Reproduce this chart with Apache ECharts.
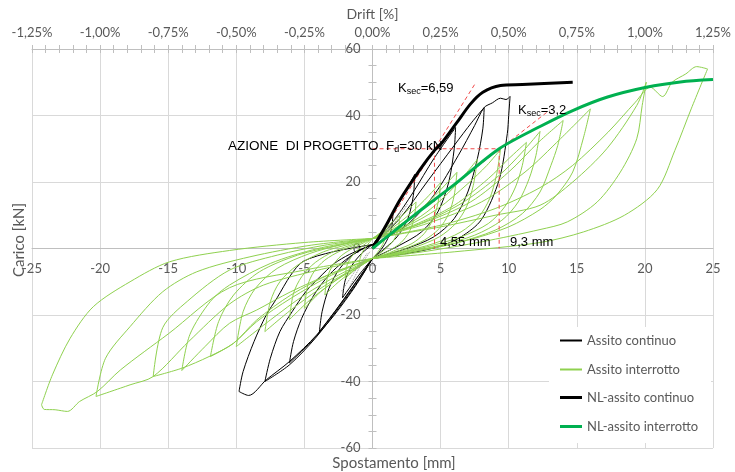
<!DOCTYPE html>
<html><head><meta charset="utf-8">
<script src="https://cdn.jsdelivr.net/npm/echarts@6/dist/echarts.min.js"></script>
<style>html,body{margin:0;padding:0;background:#fff}#c{width:735px;height:472px}</style>
</head><body><div id="c"></div>
<script>
// ---------- DATA ----------
// Assito interrotto (thin light green) : positive half-cycles
const greenPosLoading = [
 [[0,3],[0.3,3.8],[0.6,4.8],[1,6]],
 [[0,3],[0.5,4.5],[1,6.3],[1.5,8.2],[2,10]],
 [[0,3],[0.8,5],[1.6,7.5],[2.4,10.8],[3.2,14]],
 [[0,3],[1.2,5.5],[2.5,9.5],[3.8,14.5],[5,19.8]],
 [[0,3],[1.5,5.8],[3,10],[4.6,16],[6.2,22.9]],
 [[0,3],[2,6],[4,11],[6,18.5],[7.7,26.8]],
 [[0,3],[2.4,6.5],[4.8,12],[7,19.5],[8.4,25],[9.4,29.8]],
 [[0,3],[3,7],[6,13],[8.5,21],[10,27],[11.3,31.9]],
 [[0,3],[3.2,7],[6.5,13.5],[9.3,22],[11,29],[12.3,35.2]],
 [[0,3],[3.6,7.5],[7.2,14],[10,23],[12.2,32],[14,38.5]],
 [[0,3],[4,7.5],[8,14],[11.2,23],[13.8,33],[16,42]],
 [[0,3],[5,6.5],[9,10],[12.3,13],[14.7,20],[17.2,30],[19.4,43],[20.1,50]],
 [[0,3],[5,7],[9,12],[12.3,18.3],[14.7,25],[17.3,35],[19.3,44],[20.4,48.5],[21.3,45.7],[22,50],[23,52.5],[23.8,54.7],[24.6,54]]
];
const greenPosUnloading = [
 [[1,6],[0.95,3.5],[0.75,1.2],[0.4,-1],[0,-3]],
 [[2,10],[1.9,6],[1.6,2.8],[1.1,0.4],[0.5,-1.6],[0,-3]],
 [[3.2,14],[3.05,9],[2.7,5],[2.1,1.8],[1.3,-0.5],[0.6,-2],[0,-3]],
 [[5,19.8],[4.8,13.5],[4.4,8.5],[3.8,4.5],[2.9,1.5],[1.7,-0.5],[0.8,-2],[0,-3]],
 [[6.2,22.9],[6,16],[5.6,10.5],[4.9,6],[3.8,2.5],[2.4,0],[1.1,-1.7],[0,-3]],
 [[7.7,26.8],[7.4,19],[6.9,12.5],[6.1,7.5],[4.9,3.5],[3.2,0.5],[1.5,-1.5],[0,-3]],
 [[9.4,29.8],[9.1,22],[8.6,15],[7.8,9.5],[6.5,5],[4.5,1.5],[2.2,-1],[0,-3]],
 [[11.3,31.9],[11,25],[10.5,18.5],[9.7,12.5],[8.5,7.5],[6.5,3.5],[4,0.5],[2,-1.3],[0,-3]],
 [[12.3,35.2],[12,28],[11.5,21],[10.7,14],[9.5,8.5],[7.5,4],[5,1],[2.5,-1],[0,-3]],
 [[14,38.5],[13.6,31],[13.1,25],[12.3,17],[11,10.5],[9,5.5],[6,1.5],[3,-1],[0,-3]],
 [[16,42],[15.5,33.5],[14.7,23],[13.5,16],[12.3,11.7],[10,6.5],[7,2.5],[3.5,-0.5],[0,-3]],
 [[20.1,50],[19.8,43],[19.4,33],[18.2,23],[16.5,14],[14.3,8],[12.3,5.7],[8,2],[4,-0.8],[0,-3]],
 [[24.6,54],[23.4,42],[22.2,29.5],[20.9,17.7],[18.5,10],[15.5,5],[12.3,1.8],[6,-1],[0,-3]]
];
// Assito interrotto : negative half-cycles
const greenNegLoading = [
 [[0,-3],[-0.5,-3.8],[-1,-5]],
 [[0,-3],[-0.7,-4.8],[-1.4,-6.8],[-2,-9]],
 [[0,-3],[-0.9,-5.3],[-1.8,-7.8],[-2.7,-10.8],[-3.5,-14]],
 [[0,-3],[-1.2,-5.8],[-2.5,-9],[-3.8,-13],[-5,-18]],
 [[0,-3],[-1.5,-6.5],[-3,-10.5],[-4.6,-15.5],[-6.1,-21.4]],
 [[0,-3],[-2,-7.5],[-4,-12.5],[-6,-18.5],[-7.9,-25]],
 [[0,-3],[-2.5,-8],[-5,-14],[-7.5,-21.5],[-10,-29.5]],
 [[0,-3],[-3,-8],[-6,-15],[-8.5,-22],[-10.2,-28.5],[-11.9,-32.5]],
 [[0,-3],[-3,-7.5],[-6,-13],[-8.5,-18.5],[-10.5,-22.5],[-12.3,-29.5],[-14,-36.7]],
 [[0,-3],[-3,-7.5],[-6,-14],[-8.5,-21.5],[-10.2,-28.5],[-12,-32.5],[-14,-36],[-16.1,-38.5]],
 [[0,-3],[-4,-6.5],[-8,-11],[-10.5,-16.7],[-13.5,-28],[-16.1,-38.5],[-17.8,-41],[-20.3,-44.5]],
 [[0,-3],[-5,-6.5],[-10.5,-11.8],[-15,-25.7],[-18.5,-36.5],[-20.2,-43],[-21.5,-46],[-22.4,-49],[-23.3,-48.5],[-24.1,-48.4],[-24.3,-47]]
];
const greenNegUnloading = [
 [[-1,-5],[-0.9,-2.8],[-0.7,-0.8],[-0.35,1.2],[0,3]],
 [[-2,-9],[-1.9,-5.5],[-1.6,-2.8],[-1.1,-0.5],[-0.5,1.5],[0,3]],
 [[-3.5,-14],[-3.3,-8.5],[-2.9,-5],[-2.3,-2.2],[-1.4,0.2],[-0.6,1.8],[0,3]],
 [[-5,-18],[-4.75,-11],[-4.3,-7],[-3.5,-3.5],[-2.3,-0.6],[-1,1.5],[0,3]],
 [[-6.1,-21.4],[-5.8,-13.5],[-5.2,-8.5],[-4.2,-4.2],[-2.8,-0.8],[-1.3,1.4],[0,3]],
 [[-7.9,-25],[-7.5,-16],[-6.8,-10],[-5.5,-5],[-3.6,-1],[-1.7,1.3],[0,3]],
 [[-10,-29.5],[-9.5,-19],[-8.6,-12],[-7,-6],[-4.6,-1.5],[-2.2,1.2],[0,3]],
 [[-11.9,-32.5],[-11.3,-22],[-10.2,-14],[-8.3,-7],[-5.5,-2],[-2.5,1],[0,3]],
 [[-14,-36.7],[-13.4,-25.8],[-11.9,-15.9],[-10.5,-11],[-7.5,-4.5],[-4,0],[0,3]],
 [[-16.1,-38.5],[-15.4,-23.8],[-13.6,-15.9],[-10.5,-6.5],[-7,-2],[-3.5,1],[0,3]],
 [[-20.3,-44.5],[-19.6,-33],[-17.8,-23.5],[-15.4,-13],[-12.9,-7],[-9,-2.5],[-4.5,1],[0,3]],
 [[-24.3,-47],[-23.5,-38],[-22.2,-27],[-20.5,-17.5],[-17.8,-10],[-14.9,-4],[-10.5,-0.6],[-5,1.8],[0,3]]
];
// Assito continuo (thin black)
const blackPosLoading = [
 [[0,1],[0.7,5],[1.5,11]],
 [[0,1],[1,7],[2,14],[3.1,22.3]],
 [[0,1],[1.5,8],[3,17],[4.5,27],[6.1,36.4]],
 [[0,1],[2,9],[4,20],[6,31],[7.3,38],[8.2,42.4]],
 [[0,1],[2.5,7],[4.5,16],[6.3,28],[7.5,37],[8.2,42.4],[8.8,43.8],[9.4,45.2],[9.8,44.8],[10.1,45.7]]
];
const blackPosUnloading = [
 [[1.5,11],[1.4,6],[1,2],[0.5,-1],[0,-3]],
 [[3.1,22.3],[3,16],[2.6,9],[1.8,3.5],[0.9,0],[0,-3]],
 [[6.1,36.4],[6,30],[5.6,20],[4.8,11],[3.6,5],[2,1],[0,-3]],
 [[8.2,42.4],[8.1,36],[7.7,27],[7,17],[6,9],[4.5,3.5],[2.5,0],[0,-3]],
 [[10.1,45.7],[10,40],[9.9,34.6],[9.3,20.7],[8,8.7],[6.5,3.5],[4.9,0.6],[2.5,-1.5],[0,-3]]
];
const blackNegLoading = [
 [[0,-3],[-1,-8],[-2.2,-14.8]],
 [[0,-3],[-1.2,-10],[-2.6,-18],[-3.9,-25]],
 [[0,-3],[-1.2,-11],[-2.8,-20],[-4.5,-28],[-6.1,-34.4]],
 [[0,-3],[-1,-9.5],[-2.5,-18],[-4.2,-27],[-6.1,-35],[-7.9,-40]],
 [[0,-3],[-1,-9],[-2.4,-17],[-4.1,-26],[-6.1,-34],[-7.8,-39.5],[-9.1,-44.2],[-9.8,-43]]
];
const blackNegUnloading = [
 [[-2.2,-14.8],[-2,-9.5],[-1.5,-5],[-0.8,-1.5],[0,1.2]],
 [[-3.9,-25],[-3.7,-19],[-3.2,-12],[-2.4,-6],[-1.3,-1.5],[0,1.2]],
 [[-6.1,-34.4],[-5.8,-28],[-5.2,-21],[-4.3,-14],[-3.2,-8],[-2,-3.5],[-1,-0.7],[0,1.2]],
 [[-7.9,-40],[-7.5,-33],[-6.8,-25],[-5.9,-19],[-4.9,-13],[-3.9,-8.7],[-2.8,-4.5],[-1.7,-1.8],[0,1.2]],
 [[-9.8,-43],[-9.5,-37],[-8.7,-28],[-7.8,-20],[-7,-14.8],[-6,-8],[-5.1,-3.9],[-2.9,-1],[0,1.2]]
];
// grey dotted traces near the origin
const dottedTraces = [
 [[0.2,1],[1.2,6.5],[2.3,12.6]],
 [[0.4,1.5],[1.6,7.5],[2.6,13.5]],
 [[-0.2,-1],[-1,-6],[-1.7,-11.7]],
 [[-0.4,-1.5],[-1.4,-7.5],[-2.3,-13]]
];
// NL models
const nlContinuo = [[0,0],[1,7],[2,14.5],[3.5,23.8],[4.55,29.5],[5.1,31.8],[6.2,37.9],[7.2,43.5],[8.1,47],[9.4,49],[11,49.3],[14.7,50]];
const nlInterrotto = [[0,0],[3,9.8],[6,19.2],[9.3,30],[12.3,36.7],[14.7,41.5],[17.2,45.5],[20.1,48.5],[22.6,50.1],[25,50.8]];
// red dashed construction lines
const secantContinuo = [[0,0],[7.6,50]];
const secantInterrotto = [[0,0],[13,41.6]];
const designLoadLine = [[0,30],[9.3,30]];
const dispLine455 = [[4.55,30],[4.55,0]];
const dispLine93 = [[9.3,30],[9.3,0]];

const legendThin = ['Assito continuo','Assito interrotto'];
const legendThick = ['NL-assito continuo','NL-assito interrotto'];

// ---------- CHART ----------
const FONT = 'Lato, "Open Sans", sans-serif';
const AFONT = '"Liberation Sans", Arial, sans-serif';
const GREY = '#595959';
const GRID = {left:32, right:22, top:49, bottom:24};
const W = 735, H = 472;
const plotW = W - GRID.left - GRID.right, plotH = H - GRID.top - GRID.bottom;
// axes cross at (0,0): shift the axis lines from the grid edges to the zero position
const yAxisOffset = -plotW * (0 - (-25)) / 50;
const xAxisOffset = -plotH * (0 - (-60)) / 120;

const chart = echarts.init(document.getElementById('c'), null, {renderer:'canvas'});

function lines(list, name, color, width, z) {
  return list.map(d => ({
    type:'line', name, data:d, xAxisIndex:0, yAxisIndex:0, symbol:'none', showSymbol:false,
    smooth:0.3, lineStyle:{color, width}, itemStyle:{color}, z, silent:true, emphasis:{disabled:true}
  }));
}
function dashed(d) {
  return {type:'line', name:'_aux', data:d, symbol:'none', smooth:false, silent:true,
    lineStyle:{color:'#f24a4a', width:1, type:[4,3]}, z:6, emphasis:{disabled:true}};
}

const series = [].concat(
  lines(blackPosLoading, legendThin[0], '#000000', 1, 2),
  lines(blackPosUnloading, legendThin[0], '#000000', 1, 2),
  lines(blackNegLoading, legendThin[0], '#000000', 1, 2),
  lines(blackNegUnloading, legendThin[0], '#000000', 1, 2),
  lines(greenPosLoading, legendThin[1], '#8fd14f', 1, 3),
  lines(greenPosUnloading, legendThin[1], '#8fd14f', 1, 3),
  lines(greenNegLoading, legendThin[1], '#8fd14f', 1, 3),
  lines(greenNegUnloading, legendThin[1], '#8fd14f', 1, 3),
  dottedTraces.map(d => ({type:'line', name:'_dot', data:d, symbol:'none', silent:true,
     lineStyle:{color:'#8c8c8c', width:1, type:[1,1]}, z:3})),
  [dashed(secantContinuo), dashed(secantInterrotto), dashed(designLoadLine), dashed(dispLine455), dashed(dispLine93)],
  lines([nlContinuo], legendThick[0], '#000000', 3, 7),
  lines([nlInterrotto], legendThick[1], '#00b050', 3, 7)
);

const tickStyle = {color:'#bfbfbf', width:1};
const option = {
  animation:false,
  backgroundColor:'#ffffff',
  grid:{left:GRID.left, right:GRID.right, top:GRID.top, bottom:GRID.bottom, containLabel:false},
  xAxis:[
    {type:'value', min:-25, max:25, interval:5, position:'bottom', offset:xAxisOffset,
     axisLine:{onZero:false, lineStyle:{color:'#bfbfbf'}}, axisTick:{show:false},
     axisLabel:{margin:14, color:GREY, fontFamily:FONT, fontSize:13},
     splitLine:{show:true, lineStyle:{color:'#d9d9d9', width:1}}},
    {type:'value', min:-1.25, max:1.25, interval:0.25, position:'top',
     axisLine:{onZero:false, lineStyle:{color:'#bfbfbf'}},
     axisTick:{show:true, length:4, lineStyle:tickStyle},
     minorTick:{show:true, splitNumber:5, length:4, lineStyle:tickStyle},
     axisLabel:{margin:10, color:GREY, fontFamily:FONT, fontSize:13,
       formatter:v => v.toFixed(2).replace('.',',') + '%'},
     splitLine:{show:false},
     name:'Drift [%]', nameLocation:'middle', nameGap:24,
     nameTextStyle:{color:GREY, fontFamily:FONT, fontSize:14}},
    {type:'value', min:-1.25, max:1.25, interval:0.25, position:'top',
     axisLine:{show:false, onZero:false},
     axisTick:{show:true, inside:true, length:4, lineStyle:tickStyle},
     minorTick:{show:true, splitNumber:5, length:4, lineStyle:tickStyle},
     axisLabel:{show:false}, splitLine:{show:false}}
  ],
  yAxis:[
    {type:'value', min:-60, max:60, interval:20, position:'left', offset:yAxisOffset,
     axisLine:{onZero:false, lineStyle:{color:'#bfbfbf'}},
     axisTick:{show:true, length:4, lineStyle:tickStyle},
     minorTick:{show:true, splitNumber:4, length:4, lineStyle:tickStyle},
     axisLabel:{margin:12, color:GREY, fontFamily:FONT, fontSize:13},
     splitLine:{show:true, lineStyle:{color:'#d9d9d9', width:1}}},
    {type:'value', min:-60, max:60, interval:20, position:'left', offset:yAxisOffset,
     axisLine:{show:false, onZero:false},
     axisTick:{show:true, inside:true, length:4, lineStyle:tickStyle},
     minorTick:{show:true, splitNumber:4, length:4, lineStyle:tickStyle},
     axisLabel:{show:false}, splitLine:{show:false}}
  ],
  legend:[
    {data:legendThin, orient:'vertical', left:560, top:333, itemWidth:22, itemHeight:2, itemGap:14,
     icon:'rect', padding:0, selectedMode:false, z:10,
     textStyle:{color:GREY, fontFamily:FONT, fontSize:13, lineHeight:15}},
    {data:legendThick, orient:'vertical', left:560, top:390, itemWidth:22, itemHeight:3, itemGap:14,
     icon:'rect', padding:0, selectedMode:false, z:10,
     textStyle:{color:GREY, fontFamily:FONT, fontSize:13, lineHeight:15}}
  ],
  graphic:[
    {type:'rect', shape:{x:549, y:327, width:162, height:116}, style:{fill:'#ffffff'}, z:8, silent:true},
    {type:'text', x:394, y:463, z:9, silent:true,
     style:{text:'Spostamento [mm]', fill:GREY, font:'15px ' + FONT, align:'center', verticalAlign:'middle'}},
    {type:'text', x:19, y:240, rotation:Math.PI/2, z:9, silent:true,
     style:{text:'Carico [kN]', fill:GREY, font:'15px ' + FONT, align:'center', verticalAlign:'middle'}},
    {type:'text', x:228, y:146.5, z:9, silent:true,
     style:{text:'{n|AZIONE  DI PROGETTO  F}{s|d}{n|=30 kN}', verticalAlign:'middle', align:'left',
       rich:{n:{fontSize:13.5, fontFamily:AFONT, fill:'#000', lineHeight:16},
             s:{fontSize:9, fontFamily:AFONT, fill:'#000', lineHeight:8, verticalAlign:'bottom'}}}},
    {type:'text', x:398, y:88.5, z:9, silent:true,
     style:{text:'{n|K}{s|sec}{n|=6,59}', verticalAlign:'middle', align:'left',
       rich:{n:{fontSize:13, fontFamily:AFONT, fill:'#000', lineHeight:16},
             s:{fontSize:9, fontFamily:AFONT, fill:'#000', lineHeight:8, verticalAlign:'bottom'}}}},
    {type:'text', x:518, y:110.5, z:9, silent:true,
     style:{text:'{n|K}{s|sec}{n|=3,2}', verticalAlign:'middle', align:'left',
       rich:{n:{fontSize:13, fontFamily:AFONT, fill:'#000', lineHeight:16},
             s:{fontSize:9, fontFamily:AFONT, fill:'#000', lineHeight:8, verticalAlign:'bottom'}}}},
    {type:'text', x:440, y:242, z:9, silent:true,
     style:{text:'4,55 mm', fill:'#000', font:'13px ' + AFONT, align:'left', verticalAlign:'middle'}},
    {type:'text', x:510, y:242, z:9, silent:true,
     style:{text:'9,3 mm', fill:'#000', font:'13px ' + AFONT, align:'left', verticalAlign:'middle'}}
  ],
  series
};
chart.setOption(option);
</script></body></html>
